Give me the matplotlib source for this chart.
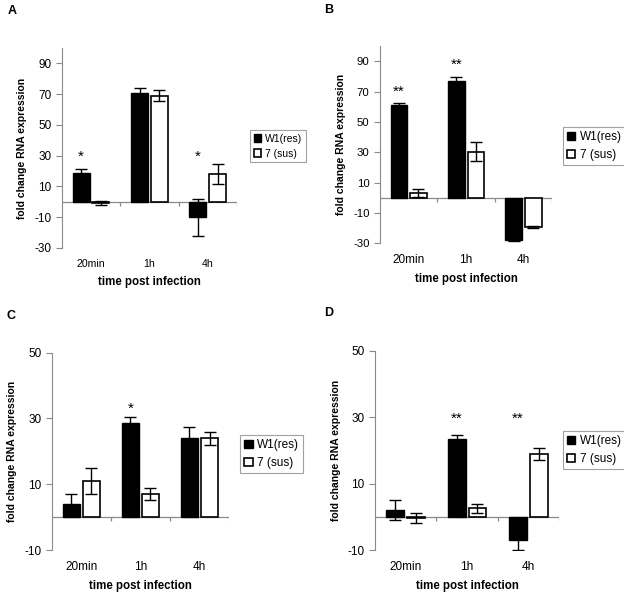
import matplotlib
matplotlib.use("Agg")
import matplotlib.pyplot as plt
import numpy as np

plt.rcParams['font.family'] = ['Liberation Sans', 'DejaVu Sans']
plt.rcParams['axes.unicode_minus'] = False

categories = ["20min", "1h", "4h"]
series_names = ["W1(res)", "7 (sus)"]

# panel A
a_res = [19, 71, -10]
a_res_err = [2.5, 3, 12]
a_sus = [-1, 69, 18]
a_sus_err = [1.2, 3.5, 6.5]
a_stars = ["*", "", "*"]
a_star_y = [29, 0, 29]

# panel B
b_res = [61.5, 77, -28]
b_res_err = [1, 3, 0.8]
b_sus = [3, 30.5, -19.5]
b_sus_err = [2.5, 6, 0.8]
b_stars = ["**", "**", ""]
b_star_y = [70, 88, 0]

# panel C
c_res = [4, 28.5, 24]
c_res_err = [3, 2, 3.5]
c_sus = [11, 7, 24]
c_sus_err = [4, 1.8, 2]
c_stars = ["", "*", ""]
c_star_y = [0, 33, 0]

# panel D
d_res = [2, 23.5, -7]
d_res_err = [3, 1, 3]
d_sus = [-0.5, 2.5, 19]
d_sus_err = [1.5, 1.5, 1.8]
d_stars = ["", "**", "**"]
d_star_y = [0, 29.5, 29.5]

# label, axes rect, data..., ylim, yticks, legend upper-left,
# y tick size, x tick size, legend font, panel letter pos
panels = [
    ("A", [0.099, 0.582, 0.281, 0.337], a_res, a_res_err, a_sus, a_sus_err, a_stars, a_star_y,
     (-30, 100), [-30, -10, 10, 30, 50, 70, 90], (0.401, 0.781), 8.5, 7.6, 7.5, (0.013, 0.992)),
    ("B", [0.609, 0.590, 0.276, 0.332], b_res, b_res_err, b_sus, b_sus_err, b_stars, b_star_y,
     (-30, 100), [-30, -10, 10, 30, 50, 70, 90], (0.902, 0.786), 8.2, 8.5, 8.5, (0.519, 0.994)),
    ("C", [0.083, 0.0725, 0.284, 0.333], c_res, c_res_err, c_sus, c_sus_err, c_stars, c_star_y,
     (-10, 50), [-10, 10, 30, 50], (0.385, 0.266), 8.5, 8.5, 8.5, (0.011, 0.477)),
    ("D", [0.601, 0.0725, 0.295, 0.336], d_res, d_res_err, d_sus, d_sus_err, d_stars, d_star_y,
     (-10, 50), [-10, 10, 30, 50], (0.902, 0.273), 8.5, 8.5, 8.5, (0.519, 0.482)),
]

fig = plt.figure(figsize=(6.24, 5.93), dpi=100)
x = np.arange(len(categories))
width = 0.29
off = 0.17
axcol = "#8a8a8a"

for (label, pos, res, res_err, sus, sus_err, stars, star_y, ylim, yticks,
     legpos, yfs, xfs, lfs, letterpos) in panels:
    ax = fig.add_axes(pos)
    ax.bar(x - off, res, width, color="black", edgecolor="black", linewidth=1,
           label=series_names[0], zorder=2)
    ax.bar(x + off, sus, width, color="white", edgecolor="black", linewidth=1.2,
           label=series_names[1], zorder=2)
    ax.errorbar(x - off, res, yerr=res_err, fmt="none", ecolor="black",
                elinewidth=1, capsize=4, capthick=1, zorder=3)
    ax.errorbar(x + off, sus, yerr=sus_err, fmt="none", ecolor="black",
                elinewidth=1, capsize=4, capthick=1, zorder=3)
    for i, s in enumerate(stars):
        if s:
            ax.text(x[i] - off, star_y[i], s, ha="center", va="center", fontsize=11)

    ax.set_xlim(-0.5, len(categories) - 0.5)
    ax.set_ylim(*ylim)
    ax.set_yticks(yticks)
    ax.set_xticks(x, categories)
    ax.tick_params(axis="x", length=0, pad=8, labelsize=xfs)
    ax.tick_params(axis="y", length=4, color=axcol, labelsize=yfs)

    for sp in ["top", "right", "bottom"]:
        ax.spines[sp].set_visible(False)
    ax.spines["left"].set_color(axcol)

    # zero line with category boundary ticks
    ax.axhline(0, color=axcol, linewidth=0.9, zorder=1)
    tick = (ylim[1] - ylim[0]) * 0.02
    ax.vlines(np.arange(0.5, len(categories)), 0, -tick, color=axcol, linewidth=0.9)

    ax.set_ylabel("fold change RNA expression", fontsize=7.5, fontweight="bold", labelpad=5)
    ax.set_xlabel("time post infection", fontsize=8.3, fontweight="bold", labelpad=5)

    leg = ax.legend(loc="upper left", bbox_to_anchor=legpos, bbox_transform=fig.transFigure,
                    fontsize=lfs, frameon=True, fancybox=False, handlelength=0.7,
                    handleheight=0.7, handletextpad=0.4, borderpad=0.35,
                    borderaxespad=0, labelspacing=0.5)
    leg.get_frame().set_edgecolor(axcol)
    leg.get_frame().set_linewidth(0.8)

    fig.text(letterpos[0], letterpos[1], label, fontsize=9, fontweight="bold", va="top")

fig.savefig("out.png", dpi=100)
